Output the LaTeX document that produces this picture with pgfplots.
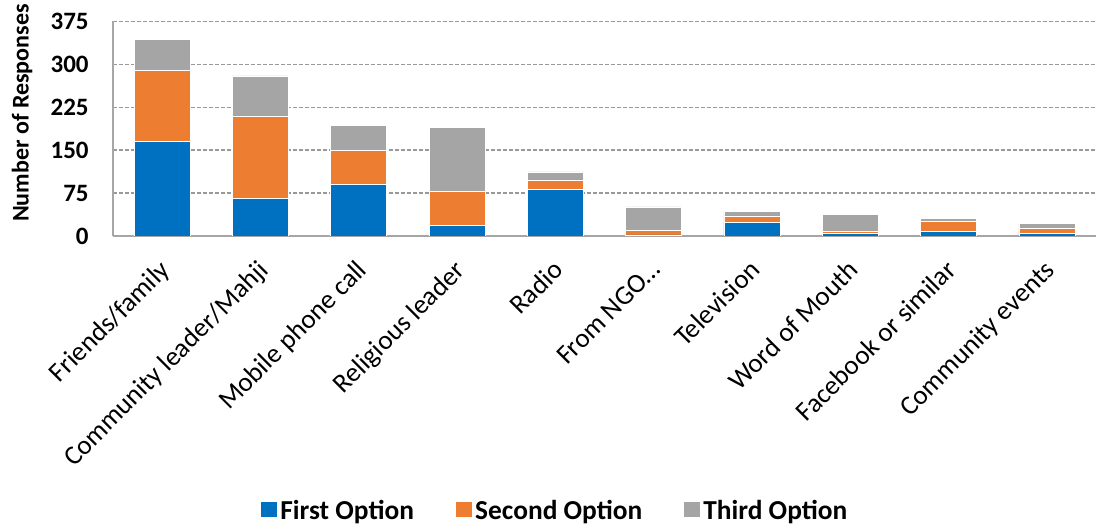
\documentclass[border=0pt]{standalone}
\usepackage{pgfplots}
\pgfplotsset{compat=1.18}
\usepackage{fontspec}
\setmainfont{Carlito}
\definecolor{cblue}{HTML}{0070C0}
\definecolor{corange}{HTML}{ED7D31}
\definecolor{cgray}{HTML}{A5A5A5}
\definecolor{axgray}{HTML}{A6A6A6}
\definecolor{gridgray}{HTML}{999999}
\begin{document}
\begin{tikzpicture}
\useasboundingbox (0,0) rectangle (548pt,262pt);
\begin{axis}[
  at={(56.5pt,144pt)}, anchor=south west,
  scale only axis, width=491.5pt, height=107.25pt,
  ybar stacked, bar width=0.57,
  xmin=-0.5, xmax=9.5, ymin=0, ymax=375,
  ytick={0,75,150,225,300,375},
  xtick={0,...,9},
  xticklabels={Friends/family,Community leader/Mahji,Mobile phone call,Religious leader,Radio,From NGO\dots,Television,Word of Mouth,Facebook or similar,Community events},
  axis x line*=bottom, axis y line*=left,
  axis line style={draw=axgray, line width=0.8pt},
  major tick length=0pt,
  ymajorgrids, grid style={draw=gridgray, line width=0.75pt, dash pattern=on 2pt off 1pt},
  /pgf/number format/assume math mode=true,
  yticklabel style={font=\fontsize{12.5}{14}\selectfont\bfseries, inner sep=0pt, anchor=east, xshift=-12pt},
  xticklabel style={font=\fontsize{13.5}{15}\selectfont, inner sep=0pt, anchor=north east, xshift=-2pt, yshift=-11pt, rotate=45},
  ylabel={Number of Responses},
  ylabel style={font=\fontsize{12}{14}\selectfont\bfseries, at={(axis description cs:-0.0926,0.573)}, anchor=center},
  legend columns=3,
  legend style={at={(axis description cs:0.4497,-1.282)}, anchor=center, draw=none, fill=none,
    font=\fontsize{13.7}{16}\selectfont\bfseries,
    /tikz/every even column/.append style={column sep=19pt},
    nodes={inner sep=1.4pt}},
  legend image code/.code={\fill[#1] (0pt,-3.4pt) rectangle (8.5pt,5pt);},
  every axis plot/.append style={draw=white, line width=0.3pt},
]
\addplot[fill=cblue] coordinates {(0,165) (1,66) (2,90) (3,19) (4,81) (5,2) (6,24) (7,5) (8,8) (9,4)};
\addplot[fill=corange] coordinates {(0,125) (1,144) (2,60) (3,59) (4,17) (5,8) (6,11) (7,4) (8,18) (9,9)};
\addplot[fill=cgray] coordinates {(0,54) (1,70) (2,43) (3,112) (4,14) (5,41) (6,8.5) (7,29) (8,5) (9,9)};
\legend{First Option,Second Option,Third Option}
\end{axis}
\end{tikzpicture}
\end{document}
